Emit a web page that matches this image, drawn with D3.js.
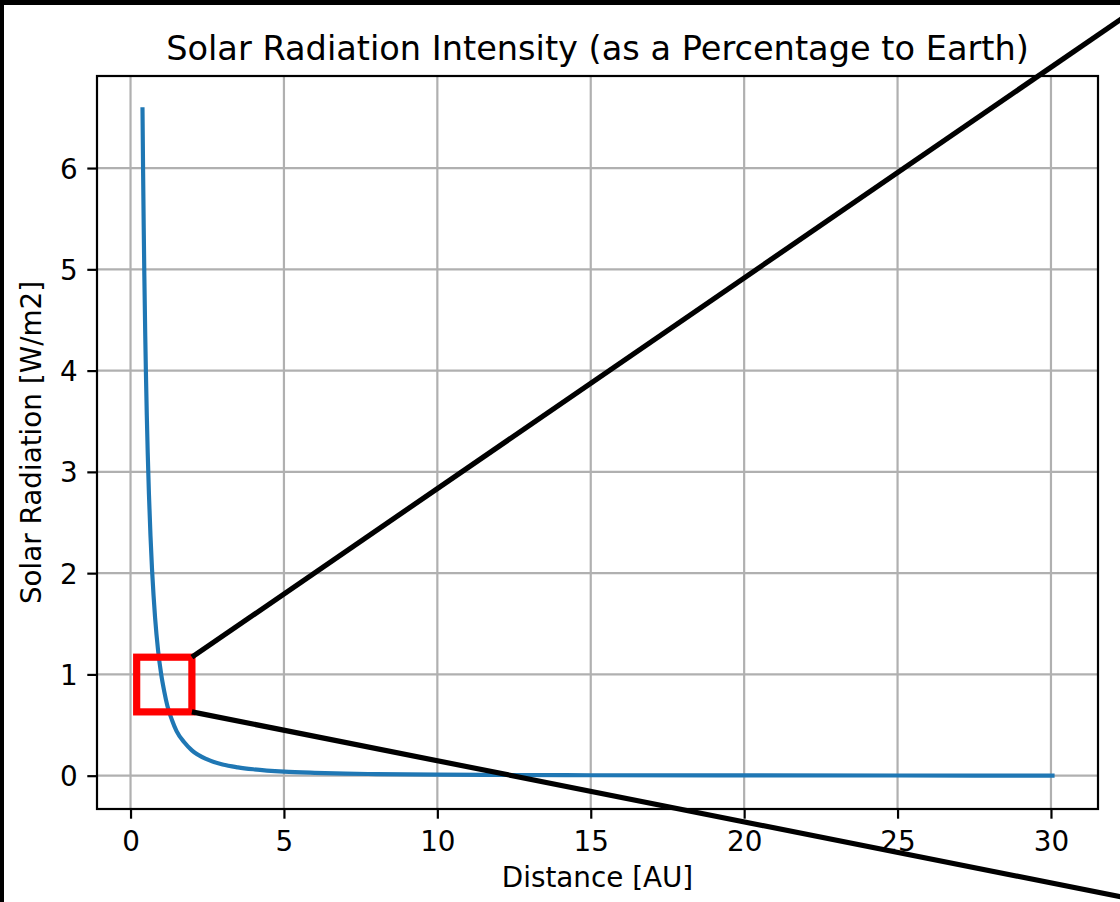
<!DOCTYPE html>
<html>
<head>
<meta charset="utf-8">
<script src="https://cdn.jsdelivr.net/npm/d3@7"></script>
<style>
  html, body { margin: 0; padding: 0; background: #fff; }
  svg { display: block; }
  text { font-family: "DejaVu Sans", sans-serif; fill: #000; }
</style>
</head>
<body>
<svg id="chart" width="1120" height="902"></svg>
<script>
// Solar radiation vs. distance from the Sun (relative to Earth = 1)
const distances = [0.39, 0.41, 0.43, 0.45, 0.48, 0.5, 0.53, 0.56, 0.6, 0.65, 0.7, 0.75, 0.8, 0.9, 1.0,
                   1.1, 1.2, 1.35, 1.5, 1.75, 2.0, 2.5, 3.0, 3.5, 4.0, 5.0, 6.0, 7.0, 8.0, 10.0,
                   12.0, 15.0, 20.0, 25.0, 30.05];
const radiation = [6.58, 5.95, 5.41, 4.94, 4.34, 4.0, 3.56, 3.19, 2.78, 2.37, 2.04, 1.78, 1.56, 1.23, 1.0,
                   0.83, 0.69, 0.55, 0.44, 0.33, 0.25, 0.16, 0.11, 0.082, 0.063, 0.04, 0.028, 0.02, 0.016, 0.01,
                   0.007, 0.0044, 0.0025, 0.0016, 0.0011];

const xTicks = [0, 5, 10, 15, 20, 25, 30];
const yTicks = [0, 1, 2, 3, 4, 5, 6];

// zoom region highlighted on the plot [x0, x1] x [y0, y1]
const zoomX = [0.2, 2.0];
const zoomY = [0.63, 1.17];
// far ends of the connector lines (corners of the zoomed view, off to the right)
const connectorEnds = [[33.0, 7.62], [33.0, -1.24]];

const titleText = "Solar Radiation Intensity (as a Percentage to Earth)";
const xLabel = "Distance [AU]";
const yLabel = "Solar Radiation [W/m2]";

const svg = d3.select("#chart");
const W = 1120, H = 902;
const plot = { left: 97, right: 1098, top: 76, bottom: 809 };

svg.append("rect").attr("width", W).attr("height", H).attr("fill", "#fff");
// dark frame along the top and left edges
svg.append("rect").attr("x", 0).attr("y", 0).attr("width", W).attr("height", 5).attr("fill", "#000");
svg.append("rect").attr("x", 0).attr("y", 0).attr("width", 4).attr("height", H).attr("fill", "#000");

// 5% padding around the data extent
const xExt = d3.extent(distances), yExt = [0, d3.max(radiation)];
const xPad = (xExt[1] - xExt[0]) * 0.05, yPad = (yExt[1] - yExt[0]) * 0.05;
const x = d3.scaleLinear().domain([xExt[0] - xPad, xExt[1] + xPad]).range([plot.left, plot.right]);
const y = d3.scaleLinear().domain([yExt[0] - yPad, yExt[1] + yPad]).range([plot.bottom, plot.top]);

const tickLen = 9.7, tickPad = 9.7, lw = 2.2;

// grid
const grid = svg.append("g");
grid.selectAll(".gx").data(xTicks).join("line")
  .attr("x1", d => x(d)).attr("x2", d => x(d))
  .attr("y1", plot.top).attr("y2", plot.bottom)
  .attr("stroke", "#b0b0b0").attr("stroke-width", lw);
grid.selectAll(".gy").data(yTicks).join("line")
  .attr("y1", d => y(d)).attr("y2", d => y(d))
  .attr("x1", plot.left).attr("x2", plot.right)
  .attr("stroke", "#b0b0b0").attr("stroke-width", lw);

// radiation curve
const line = d3.line().x((d, i) => x(distances[i])).y(d => y(d)).curve(d3.curveMonotoneX);
svg.append("path").datum(radiation)
  .attr("d", line)
  .attr("fill", "none")
  .attr("stroke", "#1f77b4")
  .attr("stroke-width", 4.17)
  .attr("stroke-linecap", "square")
  .attr("stroke-linejoin", "round");

// axes
const xAxis = d3.axisBottom(x).tickValues(xTicks).tickSize(tickLen).tickPadding(tickPad).tickFormat(d3.format("d"));
const yAxis = d3.axisLeft(y).tickValues(yTicks).tickSize(tickLen).tickPadding(tickPad).tickFormat(d3.format("d"));

const gx = svg.append("g").attr("transform", `translate(0,${plot.bottom})`).call(xAxis);
const gy = svg.append("g").attr("transform", `translate(${plot.left},0)`).call(yAxis);
[gx, gy].forEach(g => {
  g.select(".domain").remove();
  g.selectAll(".tick line").attr("stroke", "#000").attr("stroke-width", lw);
  g.selectAll(".tick text").attr("font-size", 27.8).attr("font-family", "DejaVu Sans").attr("fill", "#000");
});
gx.selectAll(".tick text").attr("dy", null).attr("y", 41.5);
gy.selectAll(".tick text").attr("dy", "0.36em");

// spines
svg.append("rect")
  .attr("x", plot.left).attr("y", plot.top)
  .attr("width", plot.right - plot.left).attr("height", plot.bottom - plot.top)
  .attr("fill", "none").attr("stroke", "#000").attr("stroke-width", lw);

// zoom region box
svg.append("rect")
  .attr("x", x(zoomX[0])).attr("y", y(zoomY[1]))
  .attr("width", x(zoomX[1]) - x(zoomX[0]))
  .attr("height", y(zoomY[0]) - y(zoomY[1]))
  .attr("fill", "none").attr("stroke", "#ff0000").attr("stroke-width", 7.2);

// connector lines from the box corners
const corners = [[zoomX[1], zoomY[1]], [zoomX[1], zoomY[0]]];
svg.selectAll(".connector").data(corners).join("line")
  .attr("x1", d => x(d[0])).attr("y1", d => y(d[1]))
  .attr("x2", (d, i) => x(connectorEnds[i][0])).attr("y2", (d, i) => y(connectorEnds[i][1]))
  .attr("stroke", "#000").attr("stroke-width", 5.2);

// title and labels
svg.append("text")
  .attr("x", (plot.left + plot.right) / 2).attr("y", 59.5)
  .attr("text-anchor", "middle").attr("font-size", 33.6)
  .text(titleText);
svg.append("text")
  .attr("x", (plot.left + plot.right) / 2).attr("y", 887)
  .attr("text-anchor", "middle").attr("font-size", 27.8)
  .text(xLabel);
svg.append("text")
  .attr("transform", `translate(41,${(plot.top + plot.bottom) / 2}) rotate(-90)`)
  .attr("text-anchor", "middle").attr("font-size", 27.8)
  .text(yLabel);
</script>
</body>
</html>
